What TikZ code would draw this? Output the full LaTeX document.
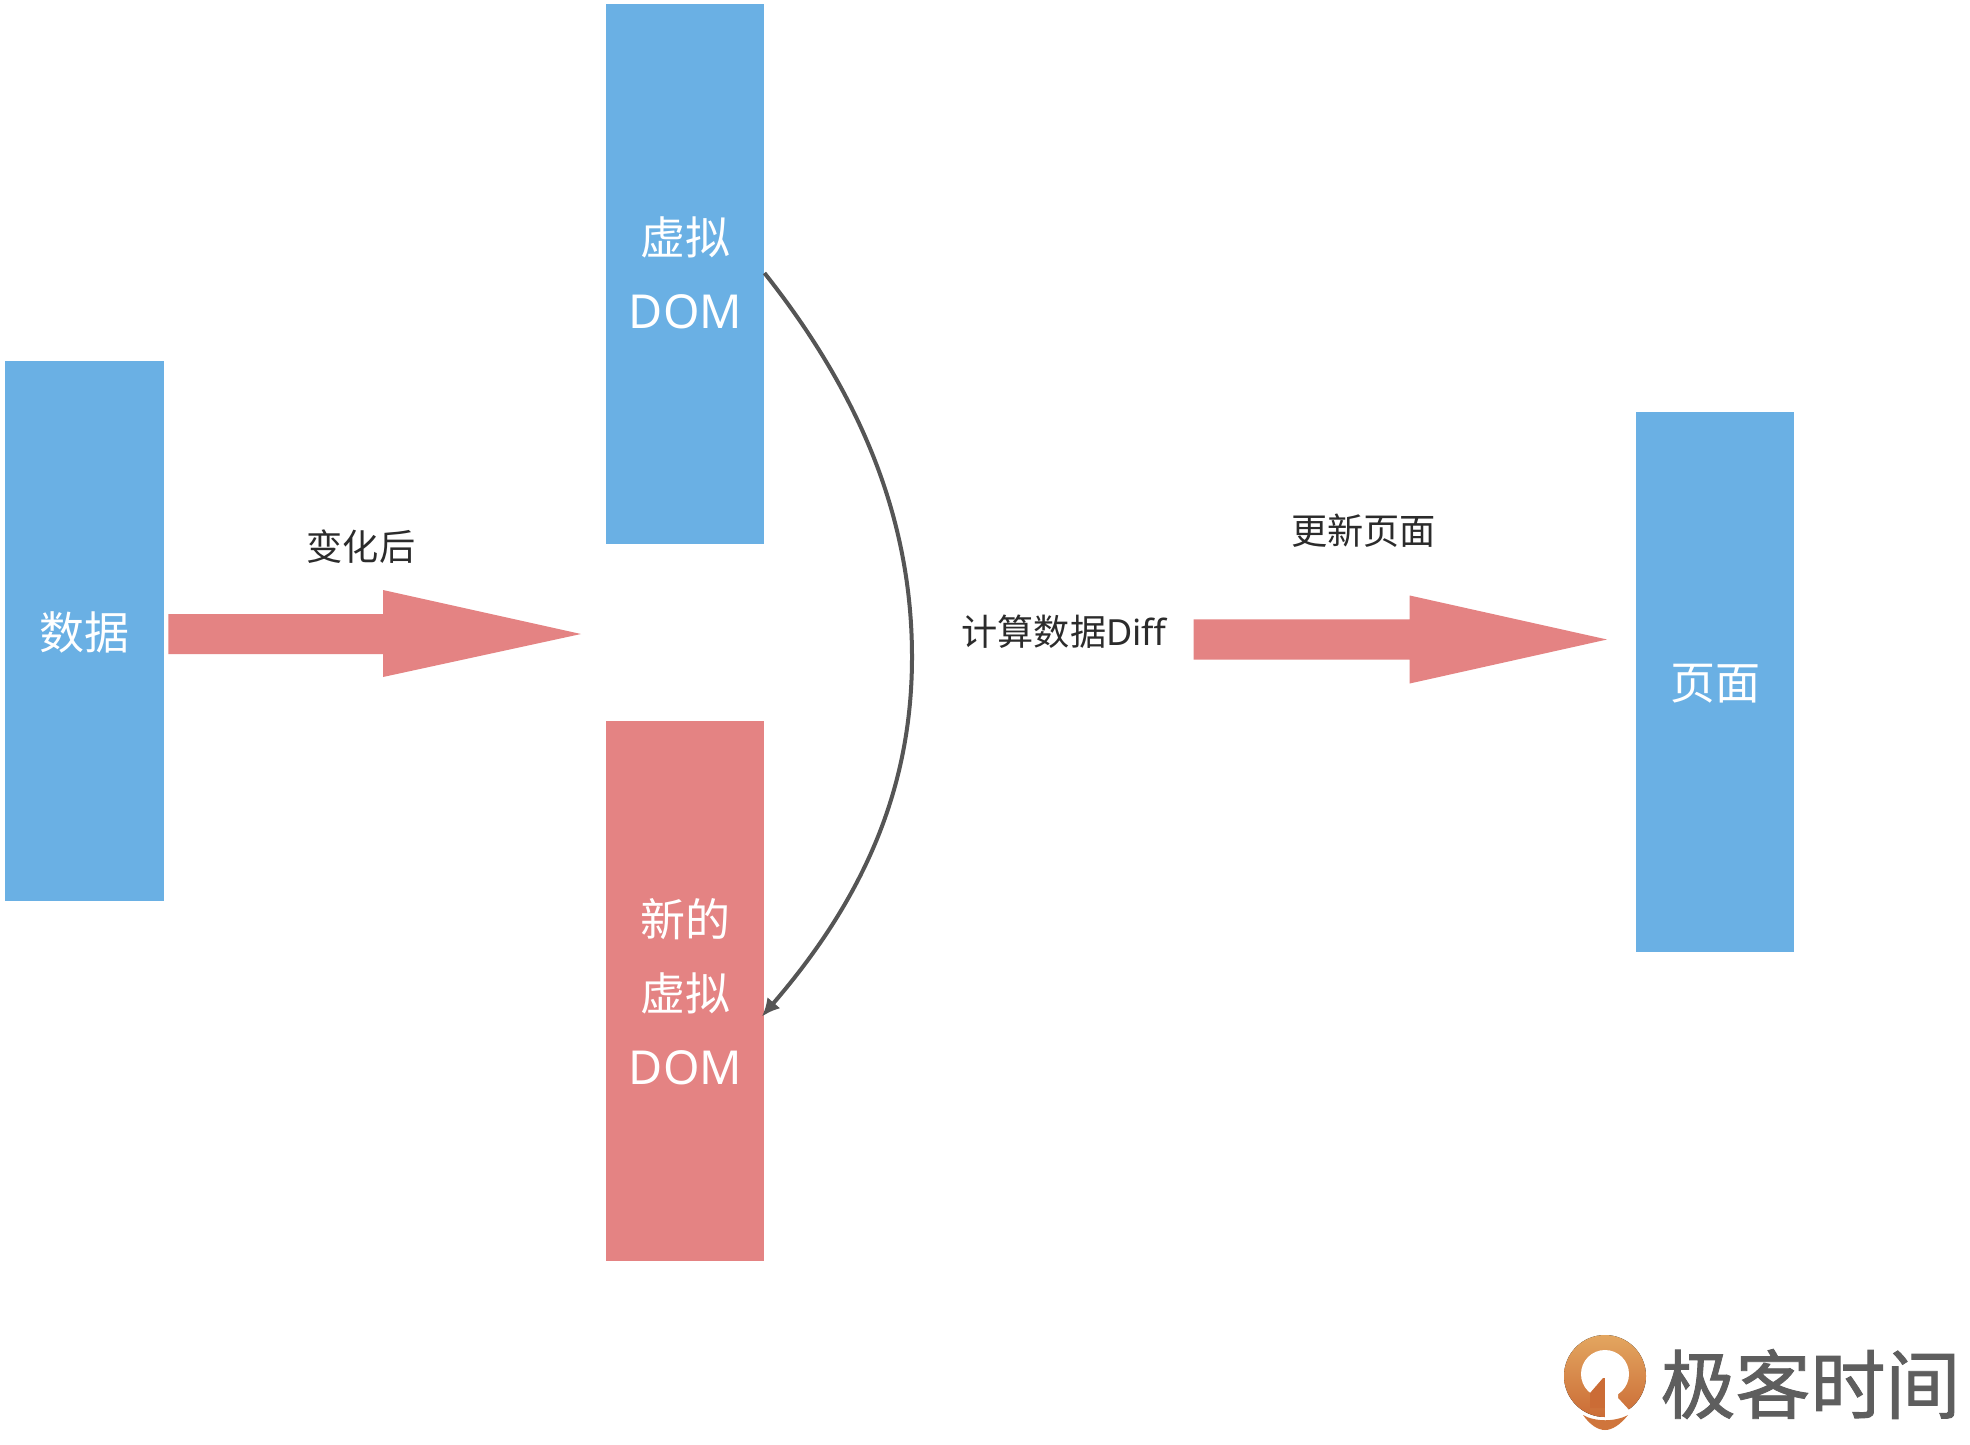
\documentclass[tikz,border=0pt]{standalone}
\usepackage{fontspec}
\usetikzlibrary{arrows.meta,calc}
\setmainfont{Noto Sans}
\newfontfamily\cjk{Noto Sans CJK SC}
\newfontfamily\logofont[FakeBold=1.2]{Noto Sans CJK SC}
\definecolor{boxblue}{HTML}{6AB0E4}
\definecolor{boxred}{HTML}{E48383}
\definecolor{inktxt}{HTML}{2B2B2B}
\definecolor{curveink}{HTML}{555555}
\definecolor{logogray}{HTML}{5E5E5E}
\definecolor{logotop}{HTML}{E3A660}
\definecolor{logobot}{HTML}{CB6C36}
\tikzset{
  x=0.5pt,y=-0.5pt,
  bluebox/.style={fill=boxblue,draw=none,minimum width=79.25pt,minimum height=270pt,inner sep=0pt},
  redbox/.style={bluebox,fill=boxred},
  boxtext/.style={text=white,inner sep=0pt,font=\fontsize{22.5}{27}\selectfont\cjk},
  boxlatin/.style={text=white,inner sep=0pt,font=\fontsize{23.4}{27}\selectfont},
  caption/.style={text=inktxt,inner sep=0pt,font=\fontsize{18.1}{22}\selectfont\cjk},
  blockarrow/.style={fill=boxred,draw=none},
  flowcurve/.style={draw=curveink,line width=2pt,-{Latex[length=9pt,width=8.5pt]}}
}
\begin{document}
\begin{tikzpicture}
\useasboundingbox (0,0) rectangle (1970,1445);
\fill[white] (0,0) rectangle (1970,1445);
% boxes
\node[bluebox] (data) at (84.3,631.2) {};
\node[bluebox] (vdom) at (684.8,274) {};
\node[redbox]  (ndom) at (684.8,990.5) {};
\node[bluebox] (page) at (1715,681.5) {};
% box texts
\node[boxtext] (tdata) at (84.2,632) {数据};
\node[boxtext] (tv1) at (685.5,237.5) {虚拟};
\node[boxlatin] (tv2) at (685.5,311.6) {DOM};
\node[boxtext] (tn1) at (685.5,919) {新的};
\node[boxtext] (tn2) at (685.5,993) {虚拟};
\node[boxlatin] (tn3) at (685.5,1068) {DOM};
\node[boxtext] (tpage) at (1715,683.5) {页面};
% block arrows
\fill[blockarrow] (168.4,614) -- (383,614) -- (383,590) -- (581,634) -- (383,677) -- (383,654.2) -- (168.4,654.2) -- cycle;
\fill[blockarrow] (1193.6,619.4) -- (1409.7,619.4) -- (1409.7,595.5) -- (1607,639.5) -- (1409.7,683.5) -- (1409.7,659.6) -- (1193.6,659.6) -- cycle;
% captions
\node[caption] (c1) at (361,546.5) {变化后};
\node[caption] (c2) at (1363.5,531) {更新页面};
\node[caption] (c3) at (1064,632) {计算数据{\fontsize{18}{22}\selectfont\rmfamily Diff}};
% curve
\coordinate (cstart) at ($(vdom.east)+(0,-1)$);
\coordinate (cend) at ($(ndom.east)+(-2.5,26)$);
\draw[flowcurve] (cstart) .. controls (865,400) and (912,525) .. (912,657) .. controls (912,787) and (865,897) .. (cend);
% logo
\fill[top color=logotop,bottom color=logobot] (1605,1376) circle[radius=41];
\fill[white] (1605,1374) circle[radius=24];
\fill[logobot] (1590,1393) -- (1603,1378) -- (1605,1378) -- (1605,1408) -- (1590,1408) -- cycle;
\fill[white] (1605,1378) -- (1618,1378) -- (1618,1398) -- (1630,1411) -- (1620,1420) -- (1605,1420) -- cycle;
\fill[logobot!85!logotop] (1583,1415) .. controls (1595,1422) and (1615,1422) .. (1628,1415) .. controls (1620,1425) and (1612,1430) .. (1605,1430) .. controls (1598,1430) and (1590,1425) .. (1583,1415) -- cycle;
\node[text=logogray,inner sep=0pt,font=\fontsize{37.5}{40}\selectfont\logofont] (logotext) at (1810.5,1384) {极客时间};
\end{tikzpicture}
\end{document}
